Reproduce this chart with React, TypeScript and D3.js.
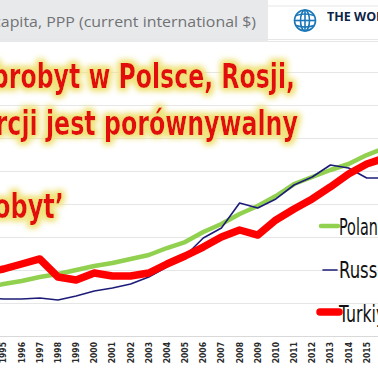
import React from "react";
import * as d3 from "d3";

const years = [1994, 1995, 1996, 1997, 1998, 1999, 2000, 2001, 2002, 2003, 2004, 2005, 2006, 2007, 2008, 2009, 2010, 2011, 2012, 2013, 2014, 2015, 2016];
const poland = [7270, 7880, 8330, 8940, 9390, 10000, 10600, 11060, 11670, 12270, 13330, 14240, 15760, 16970, 18480, 19700, 21210, 23030, 24090, 25150, 26060, 27420, 28480];
const russia = [5760, 5610, 5610, 5760, 5450, 6060, 6820, 7270, 7880, 8940, 10450, 12120, 14850, 16360, 20150, 19390, 20760, 22880, 24090, 25910, 25450, 23940, 23940];
const turkey = [9545, 10150, 10910, 11670, 8940, 8480, 9545, 9090, 9090, 9545, 10910, 12120, 13480, 15000, 16060, 15300, 17580, 19240, 20760, 22580, 24550, 26060, 26970];
const labelYears = [1995, 1996, 1997, 1998, 1999, 2000, 2001, 2002, 2003, 2004, 2005, 2006, 2007, 2008, 2009, 2010, 2011, 2012, 2013, 2014, 2015, 2016];
const gridValues = [0, 5000, 10000, 15000, 20000, 25000, 30000, 35000, 40000, 45000];
const seriesNames = ["Poland", "Russia", "Turkiye"];
const titleLines = ["Dobrobyt w Polsce, Rosji,", "i Turcji jest porównywalny", "‘dobrobyt’"];
const headerText = "GDP per capita, PPP (current international $)";

const W = 378;
const H = 370;
const narrow = "'Liberation Sans Narrow', 'DejaVu Sans Condensed', 'Arial Narrow', sans-serif";

export default function App() {
  const x = d3.scaleLinear().domain([1995, 2015]).range([3.5, 366.7]);
  const y = d3.scaleLinear().domain([0, 45000]).range([336, 39]);
  const line = d3
    .line<number>()
    .x((_, i) => x(years[i]))
    .y((d) => y(d));

  const series = [
    { name: seriesNames[0], data: poland, color: "#92d050", width: 4.5 },
    { name: seriesNames[1], data: russia, color: "#1c1c78", width: 1.6 },
    { name: seriesNames[2], data: turkey, color: "#ff0000", width: 7.5 },
  ];

  const legendY = [226, 270, 312];
  const legendBase = [235, 278, 322];
  const legendLen = [48, 53, 56];
  const legendSample = [
    [321, 338],
    [323, 337],
    [320, 339],
  ];

  const titleX = [-44, -51, -78];
  const titleLen = [339, 349, 142];
  const titleBase = [88, 135, 218];

  return (
    <svg
      width={W}
      height={H}
      viewBox={`0 0 ${W} ${H}`}
      style={{ position: "absolute", left: 0, top: 0, background: "#fff" }}
    >
      <defs>
        <filter id="glow" x="-20%" y="-40%" width="140%" height="180%">
          <feMorphology in="SourceAlpha" operator="dilate" radius="2" result="d" />
          <feGaussianBlur in="d" stdDeviation="3" result="b" />
          <feFlood floodColor="#efe27a" result="f" />
          <feComposite in="f" in2="b" operator="in" result="g" />
          <feMerge>
            <feMergeNode in="g" />
            <feMergeNode in="g" />
            <feMergeNode in="SourceGraphic" />
          </feMerge>
        </filter>
      </defs>
      <rect x={0} y={0} width={W} height={H} fill="#fff" />

      {/* header */}
      <rect x={0} y={0} width={268} height={42} fill="#e8e9eb" />
      <line x1={268} x2={W} y1={6} y2={6} stroke="#e6e6e6" />
      <line x1={268} x2={W} y1={41.5} y2={41.5} stroke="#e6e6e6" />
      <text
        x={-73}
        y={27}
        fontFamily="'Open Sans', sans-serif"
        fontSize={14.5}
        textLength={329}
        lengthAdjust="spacingAndGlyphs"
        fill="#707275"
      >
        {headerText}
      </text>
      <g transform="translate(305,20.5)" fill="none" stroke="#1b77b8" strokeWidth={1.6}>
        <circle r={10.5} />
        <ellipse rx={4.5} ry={10.5} />
        <line x1={0} x2={0} y1={-10.5} y2={10.5} />
        <line x1={-10.5} x2={10.5} y1={0} y2={0} />
        <path d="M-9,-5 Q0,-8 9,-5" />
        <path d="M-9,5 Q0,8 9,5" />
      </g>
      <text
        x={327}
        y={21}
        fontFamily="'Open Sans', sans-serif"
        fontWeight="bold"
        fontSize={12.5}
        fill="#0d2347"
      >
        THE WORLD BANK
      </text>

      {/* gridlines */}
      {gridValues.map((v) => (
        <line
          key={v}
          x1={0}
          x2={W}
          y1={Math.round(y(v)) + 0.5}
          y2={Math.round(y(v)) + 0.5}
          stroke={v === 0 ? "#d9d9d9" : "#e6e6e6"}
          strokeWidth={1}
        />
      ))}

      {/* x labels */}
      {labelYears.map((yr) => (
        <text
          key={yr}
          transform={`translate(${x(yr)},342) rotate(-90)`}
          textAnchor="end"
          dy="0.35em"
          fontFamily={narrow}
          fontWeight="bold"
          fontSize={8.5}
          fill="#2a2a2a"
        >
          {yr}
        </text>
      ))}

      {/* lines */}
      {series.map((s) => (
        <path
          key={s.name}
          d={line(s.data) || ""}
          fill="none"
          stroke={s.color}
          strokeWidth={s.width}
          strokeLinejoin="round"
          strokeLinecap="butt"
        />
      ))}

      {/* legend */}
      {series.map((s, i) => (
        <g key={s.name}>
          <line
            x1={legendSample[i][0]}
            x2={legendSample[i][1]}
            y1={legendY[i]}
            y2={legendY[i]}
            stroke={s.color}
            strokeWidth={s.width}
            strokeLinecap="round"
          />
          <text
            x={339}
            y={legendBase[i]}
            fontFamily={narrow}
            fontSize={23}
            textLength={legendLen[i]}
            lengthAdjust="spacingAndGlyphs"
            fill="#111"
          >
            {s.name}
          </text>
        </g>
      ))}

      {/* title overlay */}
      {titleLines.map((t, i) => (
        <text
          key={i}
          x={titleX[i]}
          y={titleBase[i]}
          fontFamily={narrow}
          fontWeight="bold"
          fontSize={33}
          textLength={titleLen[i]}
          lengthAdjust="spacingAndGlyphs"
          fill="#e20a0a"
          filter="url(#glow)"
        >
          {t}
        </text>
      ))}
    </svg>
  );
}
